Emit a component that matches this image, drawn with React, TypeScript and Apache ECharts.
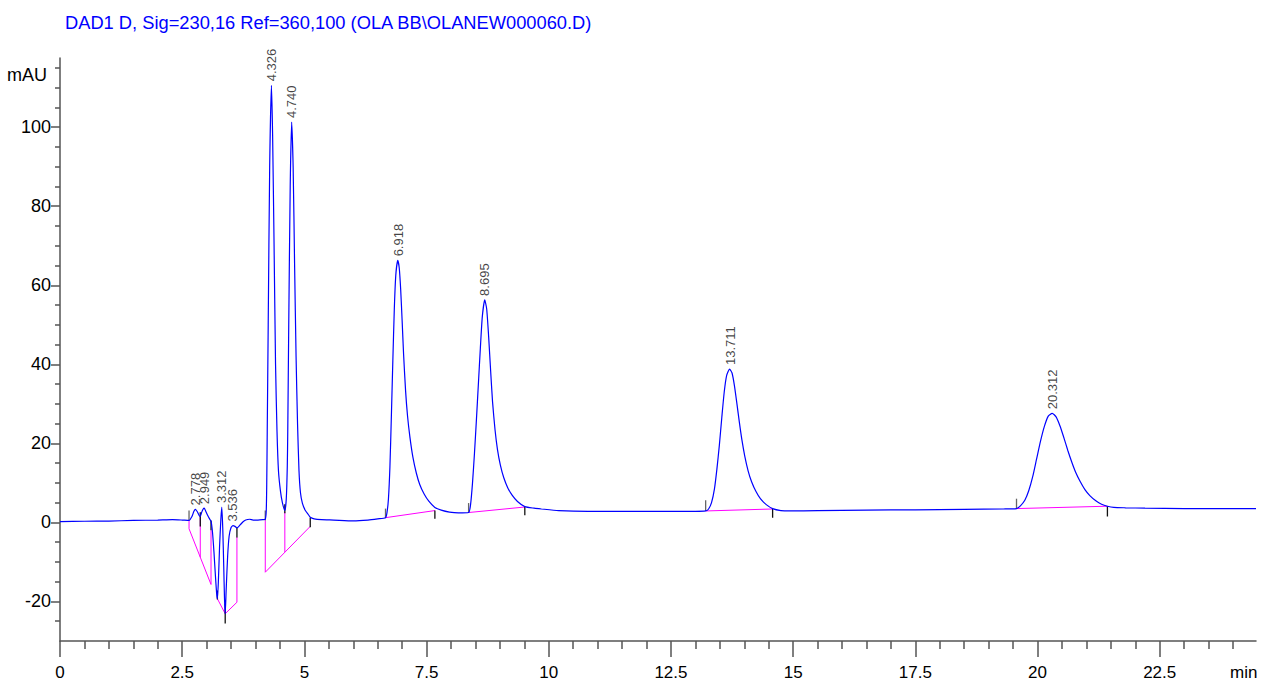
import React, { useEffect, useRef } from 'react';
import * as echarts from 'echarts';

const TITLE = 'DAD1 D, Sig=230,16 Ref=360,100 (OLA BB\\OLANEW000060.D)';
const FONT = 'Liberation Sans, Arial, sans-serif';

// Chromatogram signal: [time (min), absorbance (mAU)]
const signal: [number, number][] = [
  [0, 0.2], [0.5, 0.3], [1.0, 0.35], [1.5, 0.5], [2.0, 0.6], [2.3, 0.7], [2.5, 0.6], [2.64, 0.5],
  [2.70, 1.5], [2.74, 2.8], [2.77, 3.3], [2.81, 2.7], [2.85, 1.7], [2.87, 1.5], [2.90, 2.6], [2.93, 3.4], [2.95, 3.6], [2.98, 2.9], [3.02, 1.8], [3.06, 0.9], [3.09, 0.3],
  [3.12, -2.5], [3.15, -7.5], [3.18, -13.5], [3.205, -18], [3.22, -19.3], [3.24, -15], [3.265, -6], [3.29, 0.5], [3.31, 3.9], [3.33, -1.5], [3.35, -11], [3.365, -19], [3.38, -23.1],
  [3.40, -17], [3.43, -8.5], [3.46, -3.5], [3.50, -1.3], [3.54, -0.8], [3.58, -1.0], [3.62, -1.4], [3.68, -0.7], [3.74, 0.1], [3.80, 0.6], [3.88, 0.8], [3.95, 0.6], [4.05, 0.6], [4.15, 0.7],
  [4.20, 0.8], [4.22, 3], [4.23, 10], [4.24, 23], [4.26, 50], [4.29, 90], [4.326, 110.6], [4.35, 98], [4.38, 70], [4.41, 40], [4.44, 23], [4.47, 13], [4.51, 8], [4.55, 5], [4.60, 3.0],
  [4.63, 6], [4.65, 14], [4.66, 23], [4.68, 50], [4.71, 85], [4.74, 101.3], [4.77, 90], [4.80, 65], [4.83, 42], [4.86, 25], [4.89, 13], [4.92, 7.5], [4.96, 4.8], [5.02, 3.0], [5.08, 2.0],
  [5.12, 1.3], [5.2, 0.9], [5.35, 0.7], [5.6, 0.6], [6.0, 0.4], [6.3, 0.6], [6.5, 0.9],
  [6.66, 1.2], [6.69, 2.5], [6.72, 6.0], [6.75, 14], [6.78, 27], [6.81, 41], [6.84, 54], [6.87, 62.5], [6.91, 66.3], [6.94, 64.5], [6.97, 59], [7.00, 51], [7.03, 42.5],
  [7.07, 33.4], [7.11, 27], [7.16, 21.5], [7.22, 16.5], [7.29, 12.5], [7.36, 9.6], [7.45, 7.2], [7.55, 5.3], [7.67, 3.8], [7.80, 3.1], [7.97, 2.6], [8.15, 2.4], [8.36, 2.5],
  [8.40, 4.5], [8.44, 10], [8.48, 17.5], [8.52, 26], [8.56, 35], [8.60, 44], [8.64, 52], [8.69, 56.3], [8.73, 54], [8.77, 47], [8.81, 38.5], [8.85, 30.5], [8.90, 23.5],
  [8.95, 18.5], [9.01, 14.5], [9.08, 11.3], [9.16, 8.8], [9.25, 6.9], [9.36, 5.3], [9.51, 4.0], [9.70, 3.6], [9.85, 3.4], [10.2, 3.0], [10.8, 2.8], [11.5, 2.8], [12.5, 2.8], [13.0, 2.8],
  [13.21, 2.9], [13.27, 3.4], [13.33, 5.0], [13.39, 8.5], [13.44, 13.5], [13.49, 19.5], [13.54, 26.5], [13.59, 33.0], [13.64, 37.2], [13.70, 38.8], [13.75, 37.8], [13.80, 34.5],
  [13.85, 30.0], [13.90, 25.3], [13.95, 21.0], [14.01, 16.8], [14.08, 13.0], [14.15, 10.3], [14.24, 7.8], [14.33, 6.0], [14.45, 4.5], [14.58, 3.5], [14.75, 3.0], [14.93, 2.9],
  [15.5, 3.0], [16.5, 3.1], [17.5, 3.2], [18.5, 3.3], [19.3, 3.4],
  [19.57, 3.5], [19.65, 4.2], [19.74, 5.6], [19.82, 8.0], [19.90, 11.5], [19.98, 16.0], [20.06, 20.5], [20.14, 24.3], [20.22, 26.9], [20.30, 27.6], [20.38, 26.7], [20.46, 24.4],
  [20.54, 21.4], [20.62, 18.2], [20.70, 15.3], [20.78, 12.7], [20.87, 10.4], [20.97, 8.3], [21.07, 6.8], [21.20, 5.4], [21.31, 4.6], [21.43, 4.1], [21.56, 3.8],
  [21.8, 3.7], [22.2, 3.6], [23.0, 3.5], [24.0, 3.5], [24.47, 3.5],
];

// Peak annotations
const peakTimes = [2.778, 2.949, 3.312, 3.536, 4.326, 4.740, 6.918, 8.695, 13.711, 20.312];
const peakLabels = ['2.778', '2.949', '3.312', '3.536', '4.326', '4.740', '6.918', '8.695', '13.711', '20.312'];
const peakApex = [3.3, 3.6, 3.9, -0.8, 110.6, 101.3, 66.3, 56.3, 38.8, 27.6];

// Integration baselines and drop lines (magenta)
const baselineSegments: [number, number][][] = [
  [[2.64, 0.5], [2.64, -1.6], [3.09, -15.7]],
  [[2.87, 1.5], [2.87, -8.8]],
  [[3.09, -2], [3.09, -15.7]],
  [[3.22, -19.3], [3.38, -23.1], [3.62, -20.2], [3.62, -3.7]],
  [[4.2, 0.5], [4.2, -12.6], [5.12, -1.0]],
  [[4.6, 2.6], [4.6, -7.5]],
  [[6.66, 1.2], [7.67, 3.0]],
  [[8.36, 2.5], [9.51, 3.9]],
  [[13.21, 2.9], [14.58, 3.4]],
  [[19.57, 3.5], [21.43, 4.1]],
];

// Peak start / end tick marks: [time, from, to]
const startMarks: [number, number, number][] = [
  [2.64, 0.5, 3.0], [4.2, 0.5, 3.0], [6.66, 1.2, 3.5], [8.36, 2.5, 4.9], [13.21, 2.9, 5.6], [19.57, 3.5, 6.0],
];
const endMarks: [number, number, number][] = [
  [2.87, 2.6, -1.0], [3.09, 0.5, -2.0], [3.22, -17.2, -19.5], [3.38, -20.5, -25.6], [3.62, -1.3, -3.8],
  [4.6, 4.6, 2.3], [5.12, 1.2, -1.2], [7.67, 3.0, 0.9], [9.51, 3.9, 1.8], [14.58, 3.4, 1.2], [21.43, 4.1, 1.5],
];

// Axis ticks
const xMajor = [0, 2.5, 5, 7.5, 10, 12.5, 15, 17.5, 20, 22.5];
const xMinor = [0.5, 1, 1.5, 2, 3, 3.5, 4, 4.5, 5.5, 6, 6.5, 7, 8, 8.5, 9, 9.5, 10.5, 11, 11.5, 12, 13, 13.5, 14, 14.5,
  15.5, 16, 16.5, 17, 18, 18.5, 19, 19.5, 20.5, 21, 21.5, 22, 23, 23.5, 24];
const yMajor = [-20, 0, 20, 40, 60, 80, 100];
const yMinor = [-25, -15, -10, -5, 5, 10, 15, 25, 30, 35, 45, 50, 55, 65, 70, 75, 85, 90, 95, 105, 110, 115];
const X_MIN = 0, X_MAX = 24.47, Y_MIN = -30, Y_MAX = 117.5;
const X_UNIT_POS = 24.22, Y_UNIT_POS = 113.3;

export default function App() {
  const ref = useRef<HTMLDivElement>(null);
  useEffect(() => {
    const chart = echarts.init(ref.current!, null, { renderer: 'svg' });
    const series: any[] = [];
    baselineSegments.forEach((seg) =>
      series.push({ type: 'line', data: seg, symbol: 'none', silent: true, z: 2,
        lineStyle: { color: '#ff00ff', width: 1 } }));
    startMarks.forEach(([t, a, b]) =>
      series.push({ type: 'line', data: [[t, a], [t, b]], symbol: 'none', silent: true, z: 3,
        lineStyle: { color: '#666', width: 1.3 } }));
    endMarks.forEach(([t, a, b]) =>
      series.push({ type: 'line', data: [[t, a], [t, b]], symbol: 'none', silent: true, z: 3,
        lineStyle: { color: '#111', width: 1.3 } }));
    series.push({ type: 'line', data: signal, symbol: 'none', smooth: 0.2, z: 4,
      lineStyle: { color: '#0000ff', width: 1.2 } });
    series.push({
      type: 'scatter', z: 5, symbolSize: 0, silent: true,
      data: peakTimes.map((t, i) => [t, peakApex[i], peakLabels[i]]),
      label: {
        show: true, formatter: (p: any) => p.value[2], position: 'top', distance: 4, rotate: 90,
        align: 'left', verticalAlign: 'middle', fontSize: 13, color: '#111', fontFamily: FONT,
      },
    });
    const axisColor = '#555';
    chart.setOption({
      animation: false,
      backgroundColor: '#fff',
      title: {
        text: TITLE, left: 65, top: 13, padding: 0,
        textStyle: { color: '#0000ff', fontSize: 18.3, fontWeight: 'normal', fontFamily: FONT },
      },
      grid: { left: 60, right: 10, top: 58, bottom: 41, containLabel: false, outerBoundsMode: 'none' },
      xAxis: [
        {
          type: 'value', min: X_MIN, max: X_MAX, position: 'bottom',
          axisLine: { show: true, onZero: false, lineStyle: { color: axisColor, width: 1.5 } },
          axisTick: { show: true, length: 16, customValues: xMajor, lineStyle: { color: axisColor, width: 1.5 } },
          axisLabel: {
            customValues: [...xMajor, X_UNIT_POS], margin: 23, fontSize: 17, color: '#000', fontFamily: FONT,
            formatter: (v: number) => (v > 24 ? 'min' : String(v)),
          },
          splitLine: { show: false },
        },
        {
          type: 'value', min: X_MIN, max: X_MAX, position: 'bottom',
          axisLine: { show: false, onZero: false },
          axisTick: { show: true, length: 8, customValues: xMinor, lineStyle: { color: axisColor, width: 1.5 } },
          axisLabel: { show: false }, splitLine: { show: false },
        },
      ],
      yAxis: [
        {
          type: 'value', min: Y_MIN, max: Y_MAX, position: 'left',
          axisLine: { show: true, onZero: false, lineStyle: { color: axisColor, width: 1.5 } },
          axisTick: { show: true, length: 9, customValues: yMajor, lineStyle: { color: axisColor, width: 1.5 } },
          axisLabel: {
            customValues: [...yMajor, Y_UNIT_POS], margin: 9, fontSize: 18, color: '#000', fontFamily: FONT,
            formatter: (v: number) => (v > 110 ? '{u|mAU}' : String(v)),
            rich: { u: { fontSize: 18, fontFamily: FONT, color: '#000', padding: [0, 4, 0, 0] } },
          },
          splitLine: { show: false },
        },
        {
          type: 'value', min: Y_MIN, max: Y_MAX, position: 'left',
          axisLine: { show: false, onZero: false },
          axisTick: { show: true, length: 5, customValues: yMinor, lineStyle: { color: axisColor, width: 1.5 } },
          axisLabel: { show: false }, splitLine: { show: false },
        },
      ],
      series,
    });
    return () => chart.dispose();
  }, []);
  return <div ref={ref} style={{ position: 'fixed', left: 0, top: 0, width: 1266, height: 682 }} />;
}
